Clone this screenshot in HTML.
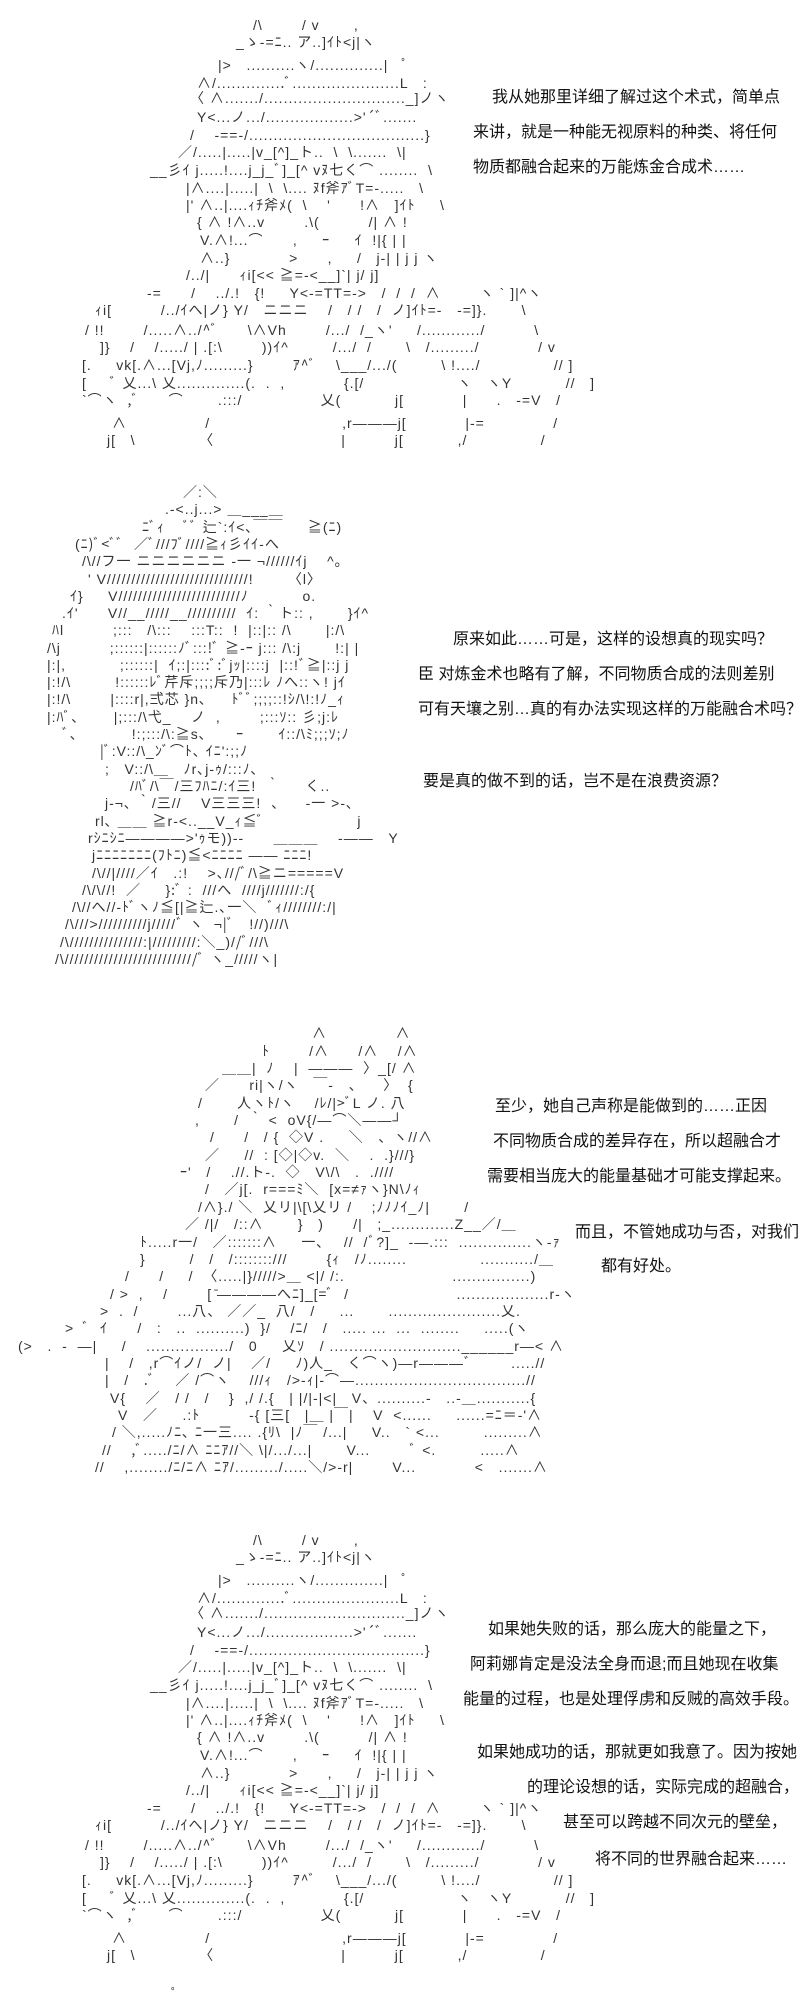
<!DOCTYPE html>
<html><head><meta charset="utf-8">
<style>
body{margin:0;background:#fff;}
#c{position:relative;width:800px;height:2000px;overflow:hidden;background:#fff;}
.a{position:absolute;white-space:pre;font:14px/18px "Liberation Sans","Noto Sans CJK JP",sans-serif;letter-spacing:1px;color:#333;}
.t{position:absolute;white-space:pre;font:16px/20px "Liberation Sans","Noto Sans CJK SC",sans-serif;color:#111;background:#fff;}
.p4{position:absolute;left:0;top:1515px;width:800px;height:485px;}
</style></head><body><div id="c">

<!-- Panel 1 -->
<div id="p1" style="position:absolute;left:0;top:0;width:800px;height:460px;">
<div class="a" style="left:253px;top:16px">/\        / v       ,</div>
<div class="a" style="left:236px;top:33px">_ゝ-=ﾆ.. ア..]ｲﾄ&lt;j|ヽ</div>
<div class="a" style="left:218px;top:56px">|&gt;   ..........ヽ/..............|   ﾟ</div>
<div class="a" style="left:197px;top:74px">∧/..............ﾞ......................L   :</div>
<div class="a" style="left:190px;top:89px">〈 ∧......./............................._]ノヽ</div>
<div class="a" style="left:197px;top:108px">Y&lt;...ノ.../..................&gt;'´ﾞ.......</div>
<div class="a" style="left:190px;top:126px">/    -==-/....................................}</div>
<div class="a" style="left:178px;top:143px">／/.....|.....|v_[^]_ト..  \  \.......  \|</div>
<div class="a" style="left:150px;top:161px">__彡ｲ j.....!....j_j_ﾞ]_[^ vﾇ七く⌒ ........  \</div>
<div class="a" style="left:186px;top:179px">|∧....|.....|  \  \.... ﾇf斧ｱﾞT=-.....   \</div>
<div class="a" style="left:186px;top:196px">|' ∧..|....ｨﾁ斧ﾒ(  \    '      !∧   ]ｲﾄ     \</div>
<div class="a" style="left:197px;top:213px">{ ∧ !∧..v        .\(          /| ∧ !</div>
<div class="a" style="left:200px;top:231px">V.∧!...⌒      ,     ｰ     ｲ  !|{ | |</div>
<div class="a" style="left:200px;top:249px">∧..}            &gt;      ,     /   j-| | j j ヽ</div>
<div class="a" style="left:186px;top:266px">/../|      ｨi[&lt;&lt; ≧=-&lt;__]`| j/ j]</div>
<div class="a" style="left:147px;top:284px">-=      /    ../.!   {!     Y&lt;-=TT=-&gt;   /  /  /  ∧        ヽ ` ]|^ヽ</div>
<div class="a" style="left:95px;top:301px">ｨi[          /../ｲへ|ノ} Y/   ニニニ    /   / /   /  ノ]ｲﾄ=-   -=]}.       \</div>
<div class="a" style="left:85px;top:321px">/ !!        /.....∧../^ﾞ      \∧Vh        /.../  /_ヽ'     /............/          \</div>
<div class="a" style="left:100px;top:338px">]}    /    /...../ | .[:\        ))ｲ^         /.../  /       \   /........./            / v</div>
<div class="a" style="left:82px;top:356px">[.     vk[.∧...[Vj,ﾉ.........}        ｱ^ﾞ    \___/.../(         \ !..../               // ]</div>
<div class="a" style="left:82px;top:374px">[     ﾞ 乂...\ 乂..............(.  .  ,            {.[/                   ヽ   ヽY           //   ]</div>
<div class="a" style="left:82px;top:391px">`⌒ヽ  ,ﾞ      ⌒       .:::/                乂(           j[            |      .   -=V   /</div>
<div class="a" style="left:112px;top:414px">∧                /                           ,r―――j[            |-=              /</div>
<div class="a" style="left:107px;top:431px">j[   \             〈                          |          j[           ,/               /</div>
</div>

<div class="t" style="left:492px;top:88px">我从她那里详细了解过这个术式，简单点</div>
<div class="t" style="left:473px;top:123px">来讲，就是一种能无视原料的种类、将任何</div>
<div class="t" style="left:473px;top:158px">物质都融合起来的万能炼金合成术……</div>

<!-- Panel 2 -->
<div class="a" style="left:183px;top:483px">／:＼</div>
<div class="a" style="left:165px;top:500px">.-&lt;..j...&gt; ＿___＿</div>
<div class="a" style="left:142px;top:518px">ﾆﾞｨ    ﾞﾞ 辷`:ｲ&lt;､￣￣     ≧(ﾆ)</div>
<div class="a" style="left:75px;top:535px">(ﾆ)ﾞ&lt;ﾞﾞ  ／ﾞ///ﾌﾞ////≧ｨ彡ｲｲ-へ</div>
<div class="a" style="left:82px;top:552px">/\//フ一 ニニニニニニ ‐一 ¬//////ｲj    ^｡</div>
<div class="a" style="left:88px;top:570px">' V/////////////////////////////!       〈l〉</div>
<div class="a" style="left:70px;top:587px">ｲ}     V/////////////////////////ﾉ           o.</div>
<div class="a" style="left:62px;top:604px">.ｲ'      V//__/////__//////////  ｲ: ｀ト:: ,       }ｲ^</div>
<div class="a" style="left:52px;top:621px">ﾊl          ;:::   /\:::    :::T::  !  |::|:: /\       |:/\</div>
<div class="a" style="left:47px;top:639px">/\j          ;::::::|::::::ﾉﾞ:::!ﾞ ≧-ｰ j::: /\:j       !:| |</div>
<div class="a" style="left:47px;top:656px">|:|,           ;::::::|  ｲ;:|::::ﾞ:ﾞjｯ|::::j  |::!ﾞ≧|::j j</div>
<div class="a" style="left:47px;top:673px">|:!/\         !::::::ﾚﾞ芹斥;;;;斥乃|:::ﾚ ﾉへ::ヽ! jｲ</div>
<div class="a" style="left:47px;top:690px">|:!/\        |::::r|,弍芯 }n､     ﾄﾞﾞ;;;;::!ｼ/\!:!ﾉ_ｨ</div>
<div class="a" style="left:47px;top:708px">|:ﾊﾞ､       |;:::/\弋_    ノ  ,        ;:::ｿ:: 彡;j:ﾚ</div>
<div class="a" style="left:62px;top:725px">ﾞ､           !:;:::/\:≧s､      ｰ       ｲ::/\ﾐ;;;ｿ;ﾉ</div>
<div class="a" style="left:100px;top:742px">|ﾞ:V::/\_ﾝﾞ⌒ﾄ､ ｲﾆ':;;ﾉ</div>
<div class="a" style="left:105px;top:760px">;   V::/\＿   ﾉr､j-ｩ/:::ﾉ､</div>
<div class="a" style="left:130px;top:777px">/ﾊﾞ/\￣/三ﾌﾊﾆ/:ｲ三!  ｀     く..</div>
<div class="a" style="left:105px;top:794px">j-¬､ ｀/三//    V三三三!  、    ‐一 &gt;-､</div>
<div class="a" style="left:95px;top:812px">rl､ ＿＿ ≧r-&lt;..__V_ｨ≦ﾞ                   j</div>
<div class="a" style="left:88px;top:829px">rｼﾆｼﾆ――――&gt;'ｩモ))--      ＿＿＿    ‐――   Y</div>
<div class="a" style="left:92px;top:846px">jﾆﾆﾆﾆﾆﾆﾆ(ﾌﾄﾆ)≦&lt;ﾆﾆﾆﾆ ―― ﾆﾆﾆ!</div>
<div class="a" style="left:92px;top:864px">/\//|////／ｲ   .:!    &gt;､///ﾞ/\≧ニ=====V</div>
<div class="a" style="left:82px;top:881px">/\/\//!  ／     }:ﾞ :  ///へ  ////j///////:/{</div>
<div class="a" style="left:72px;top:898px">/\//へ//-ﾄﾞヽﾉ≦[|≧辷.､一＼  ﾞｨ////////:/|</div>
<div class="a" style="left:65px;top:915px">/\///&gt;//////////j/////ﾞ ヽ  ¬|ﾞ   !//)///\</div>
<div class="a" style="left:60px;top:933px">/\///////////////:|/////////:＼_)//ﾞ///\</div>
<div class="a" style="left:55px;top:950px">/\///////////////////////////ﾞ ヽ_/////ヽ|</div>

<div class="t" style="left:453px;top:630px">原来如此……可是，这样的设想真的现实吗？</div>
<div class="t" style="left:418px;top:665px">臣 对炼金术也略有了解，不同物质合成的法则差别</div>
<div class="t" style="left:418px;top:700px">可有天壤之别…真的有办法实现这样的万能融合术吗？</div>
<div class="t" style="left:423px;top:772px">要是真的做不到的话，岂不是在浪费资源？</div>

<!-- Panel 3 -->
<div class="a" style="left:312px;top:1024px">∧              ∧</div>
<div class="a" style="left:262px;top:1042px">ﾄ        /∧      /∧    /∧</div>
<div class="a" style="left:222px;top:1059px">＿＿|  ﾉ    |  ―――  〉_[/ ∧</div>
<div class="a" style="left:205px;top:1076px">／      ri|ヽ/ヽ   ￣‐   、    〉  {</div>
<div class="a" style="left:198px;top:1094px">/       人ヽﾄ/ヽ    /ﾚ/|&gt;ﾞL ノ. 八</div>
<div class="a" style="left:195px;top:1111px">,       /  ｀ &lt;  oV{/―⌒＼――┘</div>
<div class="a" style="left:210px;top:1128px">/      /   / {  ◇V .     ＼   、ヽ//∧</div>
<div class="a" style="left:205px;top:1146px">／     //  : [◇|◇v.  ＼    .  .}///}</div>
<div class="a" style="left:180px;top:1163px">ｰ'   /    .//.ト-.  ◇   V\/\   .  .////</div>
<div class="a" style="left:205px;top:1180px">/   ／j[.  r===ﾐ＼  [x=≠ｧヽ}N\ﾉｨ</div>
<div class="a" style="left:198px;top:1198px">/∧}./ ＼  乂リ|\[\乂リ /    ;ﾉﾉﾉｲ_ﾉ|       /</div>
<div class="a" style="left:185px;top:1215px">／ /|/   /::∧       }   )      /|   ;_.............Z__／/＿</div>
<div class="a" style="left:140px;top:1233px">ﾄ.....r一/   ／:::::::∧     一､    //  /ﾞ?]_  ‐―.:::  ...............ヽ‐ｧ</div>
<div class="a" style="left:140px;top:1250px">}         /   /   /::::::::///        {ｨ   /ﾉ........               .........../＿</div>
<div class="a" style="left:125px;top:1267px">/      /     /  〈.....|}/////&gt;＿ &lt;|/ /:.                      ................)</div>
<div class="a" style="left:110px;top:1285px">/ &gt;  ,    /        [ ̄――――へﾆ]_[=ﾞ  /                      ...................r-ヽ</div>
<div class="a" style="left:100px;top:1302px">&gt;  .  /        ...八、 ／／_  八/   /     ...       .......................乂.</div>
<div class="a" style="left:65px;top:1319px">&gt;  ﾞ  ｲ      /   :   ..  ..........)  }/    /ﾆ/   /   ..... ...  ...  ........     .....(ヽ</div>
<div class="a" style="left:18px;top:1337px">(&gt;   .  ‐  ―|     /    ................./   0     乂ｿ   / ...........................______r―&lt; ∧</div>
<div class="a" style="left:105px;top:1354px">|    /   ,r⌒ｲノ/  ノ|    ／/     ﾉ)人_   く⌒ヽ)―r―――ﾞ        .....//</div>
<div class="a" style="left:105px;top:1371px">|   /   .ﾞ    ／ /⌒ヽ    ///ｨ   /&gt;-ｨ|-⌒―...................................//</div>
<div class="a" style="left:110px;top:1389px">V{    ／   / /   /    }  ,/ /.{   | |/|-|&lt;|   V、..........‐   ..‐＿...........{</div>
<div class="a" style="left:118px;top:1406px">V   ／     .:ﾄ          ‐{ [三[   |＿ |￣|    V  &lt;......     ......=ﾆ＝‐'∧</div>
<div class="a" style="left:112px;top:1423px">/ ＼,.....ﾉﾆ､ ﾆ一三.... .{ﾘ\  |ﾉ￣ /...|     V..   ` &lt;...         .........∧</div>
<div class="a" style="left:102px;top:1441px">//    ,ﾞ...../ﾆ/∧ ﾆﾆｱ//＼ \|/.../...|       V...        ﾞ &lt;.         .....∧</div>
<div class="a" style="left:95px;top:1458px">//    ,......../ﾆ/ﾆ∧ ﾆｱ/........./.....＼/&gt;-r|        V...            &lt;   .......∧</div>

<div class="t" style="left:495px;top:1097px">至少，她自己声称是能做到的……正因</div>
<div class="t" style="left:493px;top:1132px">不同物质合成的差异存在，所以超融合才</div>
<div class="t" style="left:487px;top:1167px">需要相当庞大的能量基础才可能支撑起来。</div>
<div class="t" style="left:575px;top:1223px">而且，不管她成功与否，对我们</div>
<div class="t" style="left:601px;top:1257px">都有好处。</div>

<!-- Panel 4 (same art as panel 1) -->
<div class="p4">
<div class="a" style="left:253px;top:16px">/\        / v       ,</div>
<div class="a" style="left:236px;top:33px">_ゝ-=ﾆ.. ア..]ｲﾄ&lt;j|ヽ</div>
<div class="a" style="left:218px;top:56px">|&gt;   ..........ヽ/..............|   ﾟ</div>
<div class="a" style="left:197px;top:74px">∧/..............ﾞ......................L   :</div>
<div class="a" style="left:190px;top:89px">〈 ∧......./............................._]ノヽ</div>
<div class="a" style="left:197px;top:108px">Y&lt;...ノ.../..................&gt;'´ﾞ.......</div>
<div class="a" style="left:190px;top:126px">/    -==-/....................................}</div>
<div class="a" style="left:178px;top:143px">／/.....|.....|v_[^]_ト..  \  \.......  \|</div>
<div class="a" style="left:150px;top:161px">__彡ｲ j.....!....j_j_ﾞ]_[^ vﾇ七く⌒ ........  \</div>
<div class="a" style="left:186px;top:179px">|∧....|.....|  \  \.... ﾇf斧ｱﾞT=-.....   \</div>
<div class="a" style="left:186px;top:196px">|' ∧..|....ｨﾁ斧ﾒ(  \    '      !∧   ]ｲﾄ     \</div>
<div class="a" style="left:197px;top:213px">{ ∧ !∧..v        .\(          /| ∧ !</div>
<div class="a" style="left:200px;top:231px">V.∧!...⌒      ,     ｰ     ｲ  !|{ | |</div>
<div class="a" style="left:200px;top:249px">∧..}            &gt;      ,     /   j-| | j j ヽ</div>
<div class="a" style="left:186px;top:266px">/../|      ｨi[&lt;&lt; ≧=-&lt;__]`| j/ j]</div>
<div class="a" style="left:147px;top:284px">-=      /    ../.!   {!     Y&lt;-=TT=-&gt;   /  /  /  ∧        ヽ ` ]|^ヽ</div>
<div class="a" style="left:95px;top:301px">ｨi[          /../ｲへ|ノ} Y/   ニニニ    /   / /   /  ノ]ｲﾄ=-   -=]}.       \</div>
<div class="a" style="left:85px;top:321px">/ !!        /.....∧../^ﾞ      \∧Vh        /.../  /_ヽ'     /............/          \</div>
<div class="a" style="left:100px;top:338px">]}    /    /...../ | .[:\        ))ｲ^         /.../  /       \   /........./            / v</div>
<div class="a" style="left:82px;top:356px">[.     vk[.∧...[Vj,ﾉ.........}        ｱ^ﾞ    \___/.../(         \ !..../               // ]</div>
<div class="a" style="left:82px;top:374px">[     ﾞ 乂...\ 乂..............(.  .  ,            {.[/                   ヽ   ヽY           //   ]</div>
<div class="a" style="left:82px;top:391px">`⌒ヽ  ,ﾞ      ⌒       .:::/                乂(           j[            |      .   -=V   /</div>
<div class="a" style="left:112px;top:414px">∧                /                           ,r―――j[            |-=              /</div>
<div class="a" style="left:107px;top:431px">j[   \             〈                          |          j[           ,/               /</div>
</div>

<div class="t" style="left:488px;top:1620px">如果她失败的话，那么庞大的能量之下，</div>
<div class="t" style="left:470px;top:1655px">阿莉娜肯定是没法全身而退;而且她现在收集</div>
<div class="t" style="left:463px;top:1690px">能量的过程，也是处理俘虏和反贼的高效手段。</div>
<div class="t" style="left:477px;top:1743px">如果她成功的话，那就更如我意了。因为按她</div>
<div class="t" style="left:527px;top:1778px">的理论设想的话，实际完成的超融合，</div>
<div class="t" style="left:563px;top:1813px">甚至可以跨越不同次元的壁垒，</div>
<div class="t" style="left:595px;top:1850px">将不同的世界融合起来……</div>

<div class="a" style="left:171px;top:1985px">ﾟ</div>
</div></body></html>
